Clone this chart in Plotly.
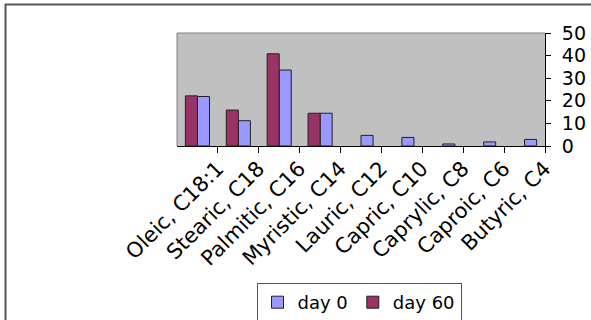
import plotly.graph_objects as go

# Data (original order; x-axis is reversed so Oleic appears on the left)
categories = ["Butyric, C4", "Caproic, C6", "Caprylic, C8", "Capric, C10", "Lauric, C12",
              "Myristic, C14", "Palmitic, C16", "Stearic, C18", "Oleic, C18:1"]
day0 = [2.9, 1.8, 0.9, 3.8, 4.7, 14.5, 33.6, 11.2, 21.9]
day60 = [None, None, None, None, None, 14.5, 40.8, 15.9, 22.2]
y_ticks = [0, 10, 20, 30, 40, 50]

W, H = 591, 320
L, R, T, B = 177, 46, 33, 174
pw, ph = W - L - R, H - T - B

def px_x(px):
    return (px - L) / pw

def px_y(py):
    return (H - B - py) / ph

fig = go.Figure()
fig.add_trace(go.Bar(name="day 0", x=categories, y=day0,
                     marker=dict(color="#9999FF", line=dict(color="#222222", width=1))))
fig.add_trace(go.Bar(name="day 60", x=categories, y=day60,
                     marker=dict(color="#993366", line=dict(color="#222222", width=1))))

font_family = "DejaVu Sans, Verdana, sans-serif"

fig.update_layout(
    width=W, height=H,
    margin=dict(l=L, r=R, t=T, b=B, pad=0, autoexpand=False),
    paper_bgcolor="white",
    plot_bgcolor="#C0C0C0",
    barmode="group",
    bargap=0.41,
    bargroupgap=0,
    font=dict(family=font_family, size=18, color="black"),
    showlegend=True,
    legend=dict(orientation="h", x=px_x(359), y=px_y(302.5), xanchor="center", yanchor="middle",
                bordercolor="#555555", borderwidth=1, bgcolor="white",
                font=dict(size=18), itemwidth=30, tracegroupgap=0),
    xaxis=dict(autorange="reversed", showgrid=False, showline=True, linecolor="black", linewidth=1,
               ticks="outside", ticklen=6, tickcolor="black", tickson="boundaries",
               tickangle=-45, tickfont=dict(size=21), zeroline=False, automargin=False,
               ticklabelshift=-20, ticklabelstandoff=1),
    yaxis=dict(side="right", range=[0, 50], tickvals=y_ticks, showgrid=False,
               showline=True, linecolor="black", linewidth=1, ticks="outside", ticklen=5,
               tickcolor="black", tickfont=dict(size=19), zeroline=False, automargin=False,
               ticklabelstandoff=7),
    shapes=[
        # plot area border (top/left)
        dict(type="line", xref="paper", yref="paper", x0=0, x1=1, y0=1, y1=1,
             line=dict(color="#808080", width=1)),
        dict(type="line", xref="paper", yref="paper", x0=0, x1=0, y0=0, y1=1,
             line=dict(color="#808080", width=1)),
        # chart area border (top and left visible)
        dict(type="line", xref="paper", yref="paper", x0=px_x(5), x1=px_x(W + 5), y0=px_y(4.5), y1=px_y(4.5),
             line=dict(color="#555555", width=2)),
        dict(type="line", xref="paper", yref="paper", x0=px_x(5.5), x1=px_x(5.5), y0=px_y(4), y1=px_y(H + 5),
             line=dict(color="#555555", width=2)),
    ],
)

fig.write_html("out.html", config={"displayModeBar": False},
               post_script="document.body.style.margin='0';document.body.style.padding='0';")
